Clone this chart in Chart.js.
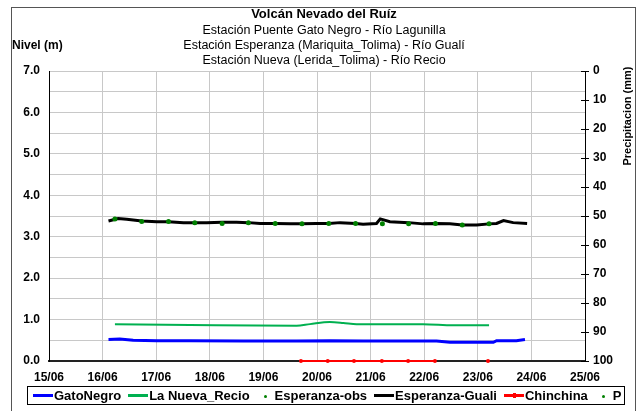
<!DOCTYPE html>
<html>
<head>
<meta charset="utf-8">
<script src="https://cdn.jsdelivr.net/npm/chart.js@4"></script>
<style>
  body { margin: 0; background: #fff; }
  #wrap { position: relative; width: 640px; height: 411px; overflow: hidden; }
  #legend {
    position: absolute; left: 27px; top: 386px; width: 591px; height: 17px;
    border: 1px solid #000; display: flex; align-items: center; padding-left: 5px;
    overflow: hidden; white-space: nowrap; box-sizing: content-box;
    font: bold 13px "Liberation Sans", Arial, sans-serif; color: #000;
  }
  .item { display: flex; align-items: center; margin-right: 7px; flex-shrink: 0; }
  .line { width: 20px; height: 3px; margin-right: 1px; position: relative; }
  .dotbox { width: 16px; height: 10px; position: relative; margin-right: 2px; }
  .dot { position: absolute; left: 7px; top: 4px; width: 3px; height: 3px; border-radius: 50%; }
  .mid { position: absolute; left: 9px; top: -1px; width: 3px; height: 5px; }
</style>
</head>
<body>
<div id="wrap">
  <canvas id="chart" width="640" height="411"></canvas>
  <div id="legend"></div>
</div>
<script>
// x values are days of June (15 = 15/06)
const xTicksMin = 15;
const xTicksMax = 25;

const gatoDias = [16.11, 16.32, 16.57, 17.01, 17.63, 18.63, 19.62, 20.24, 20.86, 21.49, 22.23, 22.48, 22.92, 23.29, 23.35, 23.72, 23.88];
const gatoNivel = [0.52, 0.53, 0.50, 0.49, 0.49, 0.48, 0.48, 0.49, 0.48, 0.48, 0.48, 0.45, 0.45, 0.45, 0.49, 0.49, 0.52];

const recioDias = [16.23, 17.63, 19.62, 19.87, 20.24, 20.49, 20.74, 21.18, 21.98, 22.54, 23.21];
const recioNivel = [0.89, 0.87, 0.85, 0.89, 0.94, 0.92, 0.89, 0.89, 0.89, 0.86, 0.86];

const obsDias = [16.23, 16.73, 17.23, 17.72, 18.23, 18.72, 19.22, 19.72, 20.22, 20.72, 21.22, 21.71, 22.21, 22.71, 23.21];
const obsNivel = [3.43, 3.37, 3.37, 3.34, 3.32, 3.34, 3.32, 3.31, 3.32, 3.32, 3.31, 3.31, 3.32, 3.28, 3.31];

const gualiDias = [16.11, 16.29, 16.45, 16.73, 17.01, 17.23, 17.51, 17.72, 17.94, 18.23, 18.50, 18.72, 18.94, 19.22, 19.50, 19.72, 19.99, 20.22, 20.43, 20.72, 20.86, 21.11, 21.18, 21.36, 21.71, 21.98, 22.21, 22.48, 22.71, 22.98, 23.21, 23.35, 23.48, 23.66, 23.92];
const gualiNivel = [3.38, 3.44, 3.42, 3.38, 3.36, 3.36, 3.34, 3.34, 3.34, 3.35, 3.35, 3.34, 3.32, 3.32, 3.31, 3.31, 3.32, 3.32, 3.34, 3.32, 3.30, 3.32, 3.43, 3.36, 3.34, 3.31, 3.32, 3.31, 3.28, 3.28, 3.31, 3.32, 3.39, 3.34, 3.32];

const chinDias = [19.70, 20.20, 20.69, 21.21, 21.70, 22.20, 22.70, 23.19];
const chinValor = [0, 0, 0, 0, 0, 0, null, 0];

const pDias = [];
const pValor = [];

const toPoints = (xs, ys) => xs.map((x, i) => ({ x, y: ys[i] }));

const FONT = '"Liberation Sans", Arial, sans-serif';
Chart.defaults.font.family = FONT;
Chart.defaults.font.size = 12;
Chart.defaults.color = "#000";

const legendItems = [
  { label: "GatoNegro", color: "#0000ff", type: "line" },
  { label: "La Nueva_Recio", color: "#00b050", type: "line" },
  { label: "Esperanza-obs", color: "#008000", type: "dot" },
  { label: "Esperanza-Guali", color: "#000000", type: "line" },
  { label: "Chinchina", color: "#ff0000", type: "linedot" },
  { label: "P", color: "#008000", type: "dot" },
];

const legend = document.getElementById("legend");
legendItems.forEach((it) => {
  const item = document.createElement("div");
  item.className = "item";
  let sample;
  if (it.type === "dot") {
    sample = document.createElement("div");
    sample.className = "dotbox";
    const d = document.createElement("div");
    d.className = "dot";
    d.style.background = it.color;
    sample.appendChild(d);
  } else {
    sample = document.createElement("div");
    sample.className = "line";
    sample.style.background = it.color;
    if (it.type === "linedot") {
      const m = document.createElement("div");
      m.className = "mid";
      m.style.background = it.color;
      sample.appendChild(m);
    }
  }
  const txt = document.createElement("span");
  txt.textContent = it.label;
  item.appendChild(sample);
  item.appendChild(txt);
  legend.appendChild(item);
});

const extras = {
  id: "extras",
  afterDraw(chart) {
    const ctx = chart.ctx;
    const area = chart.chartArea;
    const y2 = chart.scales.y2;
    ctx.save();
    // outer frame
    ctx.strokeStyle = "#555";
    ctx.lineWidth = 1;
    ctx.strokeRect(11.5, 7.5, 624, 420);
    // cross ticks on right axis
    ctx.strokeStyle = "#000";
    y2.ticks.forEach((t) => {
      const y = Math.round(y2.getPixelForValue(t.value)) + 0.5;
      ctx.beginPath();
      ctx.moveTo(area.right - 4, y);
      ctx.lineTo(area.right + 4, y);
      ctx.stroke();
    });
    // axis titles
    ctx.fillStyle = "#000";
    ctx.font = "bold 12px " + FONT;
    ctx.textBaseline = "middle";
    ctx.textAlign = "left";
    ctx.fillText("Nivel (m)", 12, 46);
    ctx.translate(628, 116);
    ctx.rotate(-Math.PI / 2);
    ctx.textAlign = "center";
    ctx.font = "bold 11px " + FONT;
    ctx.fillText("Precipitacion (mm)", 0, 0);
    ctx.restore();
  },
};

new Chart(document.getElementById("chart"), {
  type: "line",
  data: {
    datasets: [
      {
        label: "GatoNegro",
        data: toPoints(gatoDias, gatoNivel),
        borderColor: "#0000ff",
        borderWidth: 3,
        pointRadius: 0,
        yAxisID: "y",
      },
      {
        label: "La Nueva_Recio",
        data: toPoints(recioDias, recioNivel),
        borderColor: "#00b050",
        borderWidth: 2,
        pointRadius: 0,
        cubicInterpolationMode: "monotone",
        yAxisID: "y",
      },
      {
        label: "Esperanza-obs",
        data: toPoints(obsDias, obsNivel),
        showLine: false,
        pointRadius: 2.5,
        pointBackgroundColor: "#008000",
        pointBorderColor: "#008000",
        pointBorderWidth: 0,
        yAxisID: "y",
      },
      {
        label: "Esperanza-Guali",
        data: toPoints(gualiDias, gualiNivel),
        borderColor: "#000000",
        borderWidth: 3,
        pointRadius: 0,
        yAxisID: "y",
      },
      {
        label: "Chinchina",
        data: toPoints(chinDias, chinValor),
        borderColor: "#ff0000",
        borderWidth: 2,
        pointRadius: 2,
        pointBackgroundColor: "#ff0000",
        pointBorderWidth: 0,
        spanGaps: false,
        clip: 6,
        yAxisID: "y",
      },
      {
        label: "P",
        data: toPoints(pDias, pValor),
        showLine: false,
        pointRadius: 2,
        pointBackgroundColor: "#008000",
        yAxisID: "y2",
      },
    ],
  },
  options: {
    responsive: false,
    animation: false,
    events: [],
    layout: { padding: { left: 8, right: 0, top: 0, bottom: 26 } },
    plugins: {
      legend: { display: false },
      tooltip: { enabled: false },
      title: {
        display: true,
        text: "Volcán Nevado del Ruíz",
        font: { size: 13, weight: "bold", lineHeight: 1.2 },
        color: "#000",
        padding: { top: 7, bottom: 0 },
      },
      subtitle: {
        display: true,
        text: [
          "Estación Puente Gato Negro - Río Lagunilla",
          "Estación Esperanza (Mariquita_Tolima) - Río Gualí",
          "Estación Nueva (Lerida_Tolima) - Río Recio",
        ],
        font: { size: 12.5, weight: "normal", lineHeight: 1.2 },
        color: "#000",
        padding: { top: 0, bottom: 3.4 },
      },
    },
    scales: {
      x: {
        type: "linear",
        min: xTicksMin,
        max: xTicksMax,
        ticks: {
          stepSize: 1,
          padding: 9,
          maxRotation: 0,
          font: { weight: "bold" },
          callback: (v) => v + "/06",
        },
        grid: { color: "#c8c8c8", drawTicks: false },
        border: { color: "#222", width: 2 },
        afterFit: (s) => { s.height = 24; },
      },
      y: {
        position: "left",
        min: 0,
        max: 7,
        ticks: {
          stepSize: 0.5,
          padding: 9,
          font: { weight: "bold" },
          callback: (v) => (Number.isInteger(v) ? v.toFixed(1) : ""),
        },
        grid: { color: "#c8c8c8", drawTicks: false },
        border: { color: "#000", width: 1 },
        afterFit: (s) => { s.width = 41; },
      },
      y2: {
        position: "right",
        reverse: true,
        min: 0,
        max: 100,
        ticks: {
          stepSize: 10,
          padding: 8,
          font: { weight: "bold" },
        },
        grid: { drawOnChartArea: false, drawTicks: false },
        border: { color: "#000", width: 1 },
        afterFit: (s) => { s.width = 55; },
      },
    },
  },
  plugins: [extras],
});
</script>
</body>
</html>
